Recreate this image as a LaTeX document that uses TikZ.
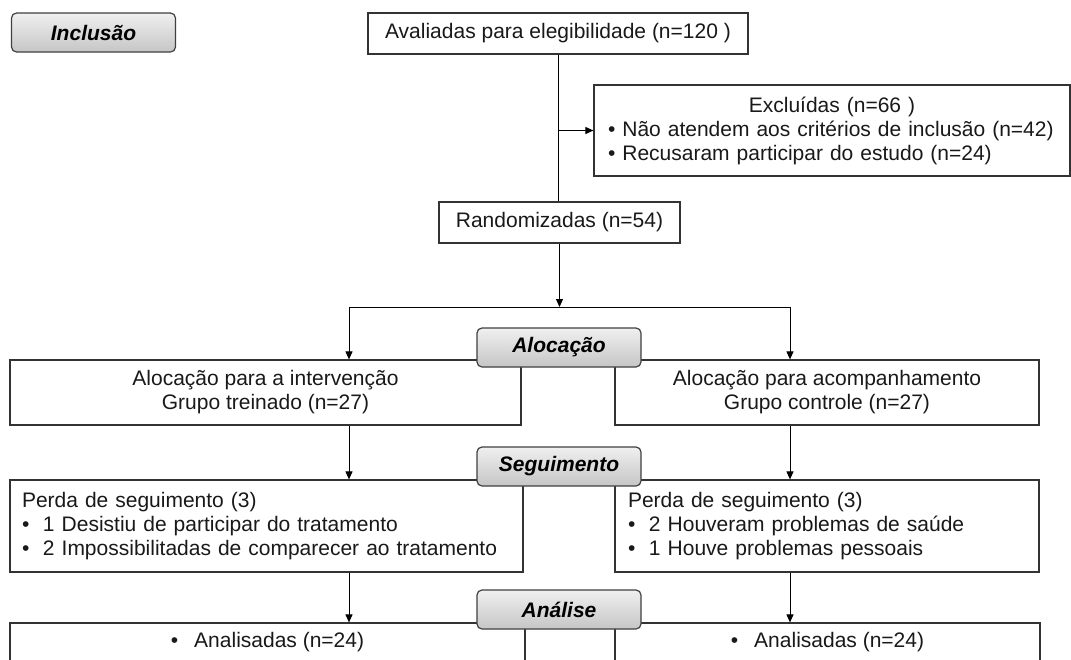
\documentclass[tikz,border=0pt]{standalone}
\usepackage{fontspec}
\setmainfont{Liberation Sans}
\usepackage{tikz}
\usetikzlibrary{positioning}
\usetikzlibrary{arrows.meta}
\newcommand{\itemdot}{\makebox[21pt][l]{\textbullet}}

\tikzset{
  box/.style={draw=black!80,line width=1.2pt,fill=white,inner xsep=13pt,inner ysep=0pt,text=black!90},
  stage/.style={draw=black!75,line width=1.2pt,rounded corners=5pt,top color=gray!12,bottom color=gray!45,
    minimum width=164pt,minimum height=39pt,inner sep=0pt,font=\fontsize{21}{24}\selectfont\bfseries\itshape},
  flow/.style={line width=1pt,-{Triangle[length=8pt,width=7pt]}},
  link/.style={line width=1pt}
}

\begin{document}
\begin{tikzpicture}[x=1pt,y=-1pt,font=\fontsize{21}{24}\selectfont]
  \clip (0,0) rectangle (1071,659);
  \fill[white] (0,0) rectangle (1071,659);
  % boxes
  \node[box,text width=458pt,inner xsep=9pt,minimum height=91pt,align=left] (excl) at (832,130.5)
    {\noindent\makebox[\hsize]{Excluídas (n=66 )}\\\hspace*{5pt}\textbullet~Não atendem aos critérios de inclusão (n=42)\\\hspace*{5pt}\textbullet~Recusaram participar do estudo (n=24)};
  \node[box,minimum width=380pt,minimum height=41pt] (aval) at (558,33.5) {Avaliadas para elegibilidade (n=120 )};
  \node[box,minimum width=241pt,minimum height=41pt] (rand) at (559.5,222.5) {Randomizadas (n=54)};
  \node[box,minimum width=511pt,minimum height=65pt,align=center] (alocA) at (265.5,392.5) {Alocação para a intervenção\\Grupo treinado (n=27)};
  \node[box,minimum width=424pt,minimum height=65pt,align=center] (alocB) at (827,392.5) {Alocação para acompanhamento\\Grupo controle (n=27)};
  \node[box,text width=489pt,inner xsep=12pt,minimum height=92pt,align=left] (perdaA) at (266.5,526)
    {Perda de seguimento (3)\\\itemdot 1 Desistiu de participar do tratamento\\\itemdot 2 Impossibilitadas de comparecer ao tratamento};
  \node[box,text width=398pt,minimum height=92pt,align=left] (perdaB) at (827,526)
    {Perda de seguimento (3)\\\itemdot 2 Houveram problemas de saúde\\\itemdot 1 Houve problemas pessoais};
  \node[box,minimum width=515pt,minimum height=39pt] (analA) at (267.5,642.5) {\textbullet\hspace{16pt}Analisadas (n=24)};
  \node[box,minimum width=425pt,minimum height=39pt] (analB) at (827.5,642.5) {\textbullet\hspace{16pt}Analisadas (n=24)};

  % connectors
  \coordinate (split) at (559.5,307);
  \coordinate (splitL) at (349,307);
  \coordinate (splitR) at (790,307);
  \draw[link] (aval.south) -- (aval.south |- rand.north);
  \draw[flow] (aval.south |- excl.west) -- (excl.west);
  \draw[flow] (rand.south) -- (split);
  \draw[link] (splitL) -- (splitR);
  \draw[flow] (splitL) -- (splitL |- alocA.north);
  \draw[flow] (splitR) -- (splitR |- alocB.north);
  \draw[flow] (splitL |- alocA.south) -- (splitL |- perdaA.north);
  \draw[flow] (splitR |- alocB.south) -- (splitR |- perdaB.north);
  \draw[flow] (splitL |- perdaA.south) -- (splitL |- analA.north);
  \draw[flow] (splitR |- perdaB.south) -- (splitR |- analB.north);

  % stage labels
  \node[stage] (incl) at (93.5,32.5) {Inclusão};
  \node[stage] (aloc) at (559,347.5) {Alocação};
  \node[stage] (seg) at (559,466.5) {Seguimento};
  \node[stage] (anal) at (559,609.5) {Análise};
\end{tikzpicture}
\end{document}
